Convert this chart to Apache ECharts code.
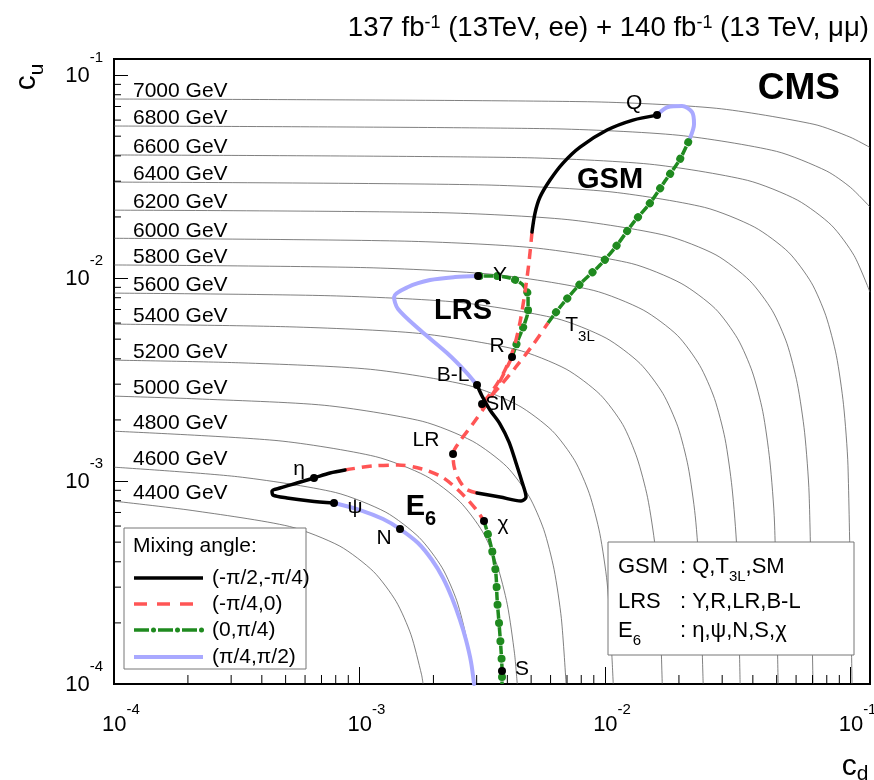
<!DOCTYPE html>
<html><head><meta charset="utf-8">
<script src="https://cdn.jsdelivr.net/npm/echarts@6/dist/echarts.min.js"></script>
<style>html,body{margin:0;padding:0;background:#fff}#c{width:874px;height:780px}</style>
</head><body><div id="c"></div>
<script>
// ---------------- DATA ----------------
const massNames = ['4400 GeV','4600 GeV','4800 GeV','5000 GeV','5200 GeV','5400 GeV','5600 GeV','5800 GeV','6000 GeV','6200 GeV','6400 GeV','6600 GeV','6800 GeV','7000 GeV'];
const c4400 = [[1e-4,7.96e-4],[2.08e-4,7.16e-4],[5.19e-4,5.97e-4],[8.31e-4,4.78e-4],[1.14e-3,3.58e-4],[1.41e-3,2.55e-4],[1.62e-3,1.75e-4],[1.79e-3,1.11e-4],[1.815e-3,1e-4]];
const c4600 = [[1e-4,1.17e-3],[3.19e-4,1.05e-3],[7.98e-4,8.78e-4],[1.28e-3,7.02e-4],[1.75e-3,5.27e-4],[2.17e-3,3.74e-4],[2.49e-3,2.57e-4],[2.74e-3,1.64e-4],[2.92e-3,1e-4]];
const c4800 = [[1e-4,1.76e-3],[4.66e-4,1.58e-3],[1.16e-3,1.32e-3],[1.86e-3,1.06e-3],[2.56e-3,7.92e-4],[3.17e-3,5.63e-4],[3.63e-3,3.87e-4],[4.0e-3,2.46e-4],[4.28e-3,1.41e-4],[4.39e-3,1e-4]];
const c5000 = [[1e-4,2.62e-3],[2.16e-4,2.54e-3],[7.22e-4,2.36e-3],[1.8e-3,1.97e-3],[2.89e-3,1.57e-3],[3.97e-3,1.18e-3],[4.91e-3,8.38e-4],[5.63e-3,5.76e-4],[6.2e-3,3.67e-4],[6.64e-3,2.1e-4],[6.94e-3,1e-4]];
const c5200 = [[1e-4,3.94e-3],[3.32e-4,3.82e-3],[1.11e-3,3.55e-3],[2.77e-3,2.96e-3],[4.43e-3,2.36e-3],[6.09e-3,1.77e-3],[7.53e-3,1.26e-3],[8.63e-3,8.67e-4],[9.52e-3,5.52e-4],[1.02e-2,3.15e-4],[1.06e-2,1.58e-4],[1.08e-2,1e-4]];
const c5400 = [[1e-4,5.93e-3],[5.2e-4,5.75e-3],[1.74e-3,5.34e-3],[4.34e-3,4.45e-3],[6.94e-3,3.56e-3],[9.54e-3,2.67e-3],[1.18e-2,1.9e-3],[1.35e-2,1.3e-3],[1.49e-2,8.3e-4],[1.6e-2,4.74e-4],[1.67e-2,2.37e-4],[1.71e-2,1e-4]];
const c5600 = [[1e-4,8.43e-3],[7.6e-4,8.18e-3],[2.54e-3,7.59e-3],[6.34e-3,6.32e-3],[1.01e-2,5.06e-3],[1.39e-2,3.79e-3],[1.72e-2,2.7e-3],[1.98e-2,1.85e-3],[2.18e-2,1.18e-3],[2.33e-2,6.74e-4],[2.43e-2,3.37e-4],[2.51e-2,1e-4]];
const c5800 = [[1e-4,1.16e-2],[1.07e-3,1.125e-2],[3.58e-3,1.04e-2],[8.95e-3,8.7e-3],[1.43e-2,6.96e-3],[1.97e-2,5.22e-3],[2.43e-2,3.71e-3],[2.79e-2,2.55e-3],[3.08e-2,1.62e-3],[3.29e-2,9.28e-4],[3.44e-2,4.64e-4],[3.55e-2,1e-4]];
const c6000 = [[1e-4,1.57e-2],[1.53e-3,1.52e-2],[5.1e-3,1.41e-2],[1.28e-2,1.18e-2],[2.04e-2,9.42e-3],[2.81e-2,7.07e-3],[3.47e-2,5.02e-3],[3.98e-2,3.45e-3],[4.39e-2,2.2e-3],[4.69e-2,1.26e-3],[4.9e-2,6.28e-4],[5.07e-2,1e-4]];
const c6200 = [[1e-4,2.16e-2],[2.12e-3,2.1e-2],[7.06e-3,1.94e-2],[1.77e-2,1.62e-2],[2.83e-2,1.3e-2],[3.88e-2,9.72e-3],[4.8e-2,6.91e-3],[5.51e-2,4.75e-3],[6.07e-2,3.02e-3],[6.5e-2,1.73e-3],[6.78e-2,8.64e-4],[7.03e-2,1e-4]];
const c6400 = [[1e-4,2.97e-2],[3.05e-3,2.88e-2],[1.02e-2,2.67e-2],[2.54e-2,2.23e-2],[4.07e-2,1.78e-2],[5.59e-2,1.34e-2],[6.92e-2,9.5e-3],[7.93e-2,6.53e-3],[8.75e-2,4.16e-3],[9.36e-2,2.38e-3],[9.76e-2,1.19e-3],[1.014e-1,1e-4]];
const c6600 = [[1e-4,4.04e-2],[4.56e-3,3.92e-2],[1.52e-2,3.64e-2],[3.8e-2,3.03e-2],[6.08e-2,2.42e-2],[8.36e-2,1.82e-2],[1.034e-1,1.29e-2],[1.2e-1,8.52e-3]];
const c6800 = [[1e-4,5.61e-2],[6.0e-3,5.44e-2],[2.0e-2,5.05e-2],[4.99e-2,4.21e-2],[7.98e-2,3.37e-2],[9.98e-2,2.8e-2],[1.2e-1,2.24e-2]];
const c7000 = [[1e-4,7.62e-2],[8.5e-3,7.39e-2],[2.84e-2,6.86e-2],[7.1e-2,5.72e-2],[9.94e-2,4.95e-2],[1.2e-1,4.4e-2]];
const contours = [c4400,c4600,c4800,c5000,c5200,c5400,c5600,c5800,c6000,c6200,c6400,c6600,c6800,c7000];

// GSM model, mixing angle segments
const gsmBlack = [[0.01629,0.0635],[0.013,0.060],[0.01019,0.05359],[0.00791,0.04418],[0.006742,0.03685],[0.00597,0.0304],[0.005435,0.02506],[0.005186,0.0209],[0.005041,0.01685]];
const gsmRed = [[0.005041,0.01685],[0.004901,0.01199],[0.00472,0.00853],[0.004506,0.00607],[0.004258,0.004572],[0.003914,0.003522],[0.003497,0.002807],[0.003155,0.002395],[0.003096,0.002289],[0.003735,0.002938],[0.004299,0.003603],[0.005041,0.004624],[0.005857,0.006]];
const gsmGreen = [[0.005857,0.006],[0.006555,0.007195],[0.00791,0.00934],[0.009541,0.01159],[0.01119,0.01454],[0.013,0.01866],[0.01525,0.02342],[0.01755,0.03005],[0.02021,0.03857],[0.02219,0.04893]];
const gsmBlue = [[0.02219,0.04893],[0.02304,0.05736],[0.02262,0.0657],[0.02059,0.07036],[0.01805,0.06957],[0.01629,0.0635]];
// LRS model
const lrsBlack = [[0.00301,0.00297],[0.003155,0.002622],[0.0034,0.002238],[0.003735,0.001909],[0.004064,0.001556],[0.00434,0.001227],[0.004591,0.0009888],[0.004767,0.0008345],[0.004548,0.000797],[0.003735,0.0008345],[0.00301,0.0008728]];
const lrsRed = [[0.00301,0.0008728],[0.002715,0.0009133],[0.002518,0.001035],[0.002426,0.001186],[0.002404,0.001358],[0.002567,0.001574],[0.002872,0.001887],[0.003275,0.002368],[0.0037,0.00304],[0.00418,0.004081]];
const lrsGreen = [[0.00418,0.004081],[0.004421,0.00495],[0.004678,0.005867],[0.004858,0.006957],[0.004858,0.008154],[0.004591,0.00934],[0.004102,0.01],[0.003564,0.01023],[0.003039,0.01023]];
const lrsBlue = [[0.003039,0.01023],[0.002449,0.01011],[0.001937,0.009775],[0.001576,0.00903],[0.001382,0.008063],[0.001435,0.007036],[0.001764,0.005543],[0.002272,0.004271],[0.002715,0.003443],[0.00301,0.00297]];
// E6 model
const e6Black = [[0.0007873,0.000779],[0.0006287,0.000797],[0.0005066,0.000825],[0.0004443,0.000853],[0.0004401,0.0008927],[0.0004745,0.0009236],[0.0005563,0.0009775],[0.0006526,0.001035],[0.0007583,0.001095],[0.0008728,0.001133]];
const e6Red = [[0.0008728,0.001133],[0.001124,0.001186],[0.001435,0.001199],[0.001797,0.001146],[0.002168,0.001046],[0.002472,0.0009236],[0.002767,0.0008063],[0.003039,0.0007036],[0.003214,0.0006353]];
const e6Green = [[0.003214,0.0006353],[0.003368,0.0005237],[0.003497,0.000432],[0.003597,0.0003442],[0.003632,0.0002652],[0.0037,0.0001997],[0.00377,0.000147],[0.003805,0.0001159],[0.003805,0.0001]];
const e6Blue = [[0.002927,0.0001],[0.002846,0.0001283],[0.002715,0.0001647],[0.002567,0.0002066],[0.002381,0.0002652],[0.002188,0.0003328],[0.001974,0.0004081],[0.001731,0.000495],[0.001462,0.00058],[0.001247,0.0006498],[0.001005,0.0007195],[0.0007873,0.000779]];

// named benchmark points
const pointNames = ['Q','Y','R','B-L','SM','LR','η','ψ','N','χ','S','T3L'];
const pointCd = [0.01629,0.003039,0.00418,0.00301,0.003155,0.002404,0.0006526,0.0007873,0.001462,0.003214,0.003805,0.005857];
const pointCu = [0.0635,0.01023,0.004081,0.00297,0.002395,0.001358,0.001035,0.000779,0.00058,0.0006353,0.0001159,0.006];
const pointHasDot = [true,true,true,true,true,true,true,true,true,true,true,false];

// model family labels
const familyNames = ['GSM','LRS','E6'];
const familyCd = [0.01048,0.00264,0.00178];
const familyCu = [0.0304,0.006878,0.0007445];

// axis
const axisMin = 1e-4, axisMax = 0.12;
const minorMultipliers = [2,3,4,5,6,7,8,9];
const minorDecades = [1e-4,1e-3,1e-2];

// legend text
const legendTitle = 'Mixing angle:';
const legendLabels = ['(-π/2,-π/4)','(-π/4,0)','(0,π/4)','(π/4,π/2)'];

// ---------------- STYLE ----------------
const FONT = '"Liberation Sans", Arial, Helvetica, sans-serif';
const BLACK = '#000000', RED = '#ff5555', GREEN = '#1f8a1f', BLUE = '#a9a9ff';
const labelOffsets = {'Q':[-23,-11],'Y':[22,0],'R':[-15,-10],'B-L':[-24,-9],'SM':[19,1],'LR':[-27,-13],'η':[-15,-8],'ψ':[21,5],'N':[-16,10],'χ':[19,4],'S':[20,-1],'T3L':[32,3]};
const NOBORDER = {textBorderWidth: 0, textBorderColor: 'transparent', textShadowBlur: 0};

const styles = {
  black: {color: BLACK, width: 3.5, type: 'solid', cap: 'round', join: 'round'},
  red: {color: RED, width: 3.5, type: [10, 7]},
  greenDash: {color: GREEN, width: 3.5, type: [9, 9]},
  greenDot: {color: GREEN, width: 8, type: [0.01, 17.99], cap: 'round', dashOffset: 4.5},
  blue: {color: BLUE, width: 4, type: 'solid', cap: 'round'}
};

function lineSeries(data, style, z) {
  return {type: 'line', data: data, showSymbol: false, symbol: 'none', smooth: 0.3,
    lineStyle: style, z: z, silent: true, animation: false, xAxisIndex: 0, yAxisIndex: 0};
}

const series = [];
// contours
contours.forEach(c => series.push({type: 'line', data: c, showSymbol: false, symbol: 'none', smooth: 0.25,
  lineStyle: {color: '#555555', width: 0.75}, z: 1, silent: true, animation: false}));
// mass labels
series.push({type: 'scatter', symbolSize: 0, itemStyle: {color: 'transparent', opacity: 1}, z: 2, silent: true,
  data: contours.map(c => c[0]),
  label: Object.assign({show: true, formatter: p => massNames[p.dataIndex], position: [19, 3], align: 'left', verticalAlign: 'bottom',
    fontFamily: FONT, fontSize: 21, color: '#000', opacity: 1}, NOBORDER)});
// models
const models = [
  [gsmBlack, gsmRed, gsmGreen, gsmBlue],
  [lrsBlack, lrsRed, lrsGreen, lrsBlue],
  [e6Black, e6Red, e6Green, e6Blue]
];
models.forEach(m => {
  series.push(lineSeries(m[3], styles.blue, 3));
  series.push(lineSeries(m[2], styles.greenDash, 4));
  series.push(lineSeries(m[2], styles.greenDot, 4));
  series.push(lineSeries(m[1], styles.red, 5));
  series.push(lineSeries(m[0], styles.black, 6));
});
// benchmark points
series.push({type: 'scatter', z: 10, silent: true, animation: false,
  data: pointNames.map((n, i) => {
    const size = pointHasDot[i] ? 8 : 0;
    const off = labelOffsets[n];
    return {value: [pointCd[i], pointCu[i]], symbolSize: size,
      label: {position: [size / 2 + off[0], size / 2 + off[1]]}};
  }),
  itemStyle: {color: '#000', opacity: 1},
  label: Object.assign({show: true, align: 'center', verticalAlign: 'middle', color: '#000', opacity: 1,
    formatter: p => pointNames[p.dataIndex] === 'T3L' ? '{m|T}{sub|3L}' : '{m|' + pointNames[p.dataIndex] + '}',
    rich: {m: Object.assign({fontFamily: FONT, fontSize: 21, color: '#000', lineHeight: 22, verticalAlign: 'top'}, NOBORDER),
           sub: Object.assign({fontFamily: FONT, fontSize: 15, color: '#000', lineHeight: 15, padding: [14, 0, 0, 0], verticalAlign: 'top'}, NOBORDER)}}, NOBORDER)});
// family labels
series.push({type: 'scatter', z: 10, silent: true, symbolSize: 0, itemStyle: {color: 'transparent', opacity: 1},
  data: familyNames.map((n, i) => [familyCd[i], familyCu[i]]),
  label: Object.assign({show: true, position: [0, 0], align: 'center', verticalAlign: 'middle', color: '#000', opacity: 1,
    formatter: p => familyNames[p.dataIndex] === 'E6' ? '{b|E}{bs|6}' : '{b|' + familyNames[p.dataIndex] + '}',
    rich: {b: Object.assign({fontFamily: FONT, fontSize: 29, fontWeight: 'bold', color: '#000', lineHeight: 30, verticalAlign: 'top'}, NOBORDER),
           bs: Object.assign({fontFamily: FONT, fontSize: 20, fontWeight: 'bold', color: '#000', lineHeight: 20, padding: [17, 0, 0, 0], verticalAlign: 'top'}, NOBORDER)}}, NOBORDER)});
// minor ticks
const minorVals = [];
minorDecades.forEach(d => minorMultipliers.forEach(m => minorVals.push(d * m)));
series.push({type: 'custom', z: 8, silent: true, animation: false, clip: false,
  data: minorVals.map(v => [v, axisMin]),
  renderItem: (params, api) => {
    const p = api.coord([api.value(0), api.value(1)]);
    return {type: 'line', shape: {x1: p[0], y1: p[1], x2: p[0], y2: p[1] - 9}, style: {stroke: '#000', lineWidth: 1}};
  }});
series.push({type: 'custom', z: 8, silent: true, animation: false, clip: false,
  data: minorVals.map(v => [axisMin, v]),
  renderItem: (params, api) => {
    const p = api.coord([api.value(0), api.value(1)]);
    return {type: 'line', shape: {x1: p[0], y1: p[1], x2: p[0] + 7, y2: p[1]}, style: {stroke: '#000', lineWidth: 1}};
  }});

function powLabel(v) {
  const e = Math.log10(v);
  const r = Math.round(e);
  if (Math.abs(e - r) > 1e-6) return '';
  return '{b|10}{s|' + r + '}';
}

// legend graphics
const LX = 124, LY = 528, LW = 182, LH = 141;
const legendRows = [578, 604, 630, 657];
const legendGraphics = [
  {type: 'rect', shape: {x: LX, y: LY, width: LW, height: LH}, style: {fill: '#fff', stroke: '#777', lineWidth: 1}, z: 50},
  {type: 'text', x: 133, y: 546, style: {text: legendTitle, fontFamily: FONT, fontSize: 21, fill: '#000', verticalAlign: 'middle'}, z: 51},
  {type: 'line', shape: {x1: 134, y1: legendRows[0], x2: 203, y2: legendRows[0]}, style: {stroke: BLACK, lineWidth: 3.5}, z: 51},
  {type: 'line', shape: {x1: 134, y1: legendRows[1], x2: 203, y2: legendRows[1]}, style: {stroke: RED, lineWidth: 3.5, lineDash: [13, 10]}, z: 51},
  {type: 'line', shape: {x1: 134, y1: legendRows[2], x2: 203, y2: legendRows[2]}, style: {stroke: GREEN, lineWidth: 3.5, lineDash: [15, 9]}, z: 51},
  {type: 'line', shape: {x1: 134, y1: legendRows[2], x2: 203, y2: legendRows[2]}, style: {stroke: GREEN, lineWidth: 5, lineDash: [0.01, 23.99], lineCap: 'round', lineDashOffset: -19.5}, z: 52},
  {type: 'line', shape: {x1: 134, y1: legendRows[3], x2: 203, y2: legendRows[3]}, style: {stroke: BLUE, lineWidth: 4}, z: 51}
];
legendLabels.forEach((t, i) => legendGraphics.push({type: 'text', x: 212, y: legendRows[i], z: 51,
  style: {text: t, fontFamily: FONT, fontSize: 21, fill: '#000', verticalAlign: 'middle'}}));

// model description box
const infoRows = [567, 602, 631];
const infoRich = {n: {fontFamily: FONT, fontSize: 22, fill: '#000', lineHeight: 23, verticalAlign: 'top'},
                  sub: {fontFamily: FONT, fontSize: 15, fill: '#000', lineHeight: 15, padding: [14, 0, 0, 0], verticalAlign: 'top'}};
const infoLeft = ['{n|GSM}', '{n|LRS}', '{n|E}{sub|6}'];
const infoRight = ['{n|: Q,T}{sub|3L}{n|,SM}', '{n|: Y,R,LR,B-L}', '{n|: η,ψ,N,S,χ}'];
const infoGraphics = [
  {type: 'rect', shape: {x: 608, y: 542, width: 246, height: 113}, style: {fill: '#fff', stroke: '#777', lineWidth: 1}, z: 50}
];
infoRows.forEach((y, i) => {
  infoGraphics.push({type: 'text', x: 618, y: y, z: 51, style: {text: infoLeft[i], rich: infoRich, verticalAlign: 'middle'}});
  infoGraphics.push({type: 'text', x: 680, y: y, z: 51, style: {text: infoRight[i], rich: infoRich, verticalAlign: 'middle'}});
});

const otherGraphics = [
  {type: 'text', x: 869, y: 28, z: 60, style: {
    text: '{t|137 fb}{s|-1}{t| (13TeV, ee) + 140 fb}{s|-1}{t| (13 TeV, μμ)}', align: 'right', verticalAlign: 'middle',
    rich: {t: {fontFamily: FONT, fontSize: 27.6, fill: '#000', verticalAlign: 'bottom'},
           s: {fontFamily: FONT, fontSize: 18, fill: '#000', padding: [0, 0, 10, 0], verticalAlign: 'top'}}}},
  {type: 'text', x: 840, y: 89, z: 60, style: {text: 'CMS', fontFamily: FONT, fontSize: 37, fontWeight: 'bold', fill: '#000', align: 'right', verticalAlign: 'middle'}},
  {type: 'text', x: 27, y: 77, rotation: Math.PI / 2, z: 60, style: {
    text: '{c|c}{u|u}', align: 'center', verticalAlign: 'middle',
    rich: {c: {fontFamily: FONT, fontSize: 30, fill: '#000', lineHeight: 30, verticalAlign: 'top'},
           u: {fontFamily: FONT, fontSize: 21, fill: '#000', lineHeight: 21, padding: [15, 0, 0, 0], verticalAlign: 'top'}}}},
  {type: 'text', x: 855, y: 767, z: 60, style: {
    text: '{c|c}{d|d}', align: 'center', verticalAlign: 'middle',
    rich: {c: {fontFamily: FONT, fontSize: 30, fill: '#000', lineHeight: 30, verticalAlign: 'top'},
           d: {fontFamily: FONT, fontSize: 21, fill: '#000', lineHeight: 21, padding: [12, 0, 0, 0], verticalAlign: 'top'}}}}
];

const chart = echarts.init(document.getElementById('c'), null, {renderer: 'canvas'});
chart.setOption({
  animation: false,
  backgroundColor: '#fff',
  grid: {left: 114, right: 4, top: 59, bottom: 96, show: true, borderColor: '#000', borderWidth: 2, backgroundColor: 'transparent', containLabel: false, outerBoundsMode: 'none'},
  xAxis: {type: 'log', logBase: 10, min: axisMin, max: axisMax, position: 'bottom',
    axisLine: {show: true, onZero: false, lineStyle: {color: '#000', width: 2}},
    axisTick: {show: true, inside: true, length: 17, lineStyle: {color: '#000', width: 1}},
    splitLine: {show: false}, minorTick: {show: false},
    axisLabel: {show: true, margin: 18, padding: [0, 0, 0, 14], formatter: powLabel, showMaxLabel: true,
      rich: {b: {fontFamily: FONT, fontSize: 22, color: '#000', verticalAlign: 'bottom'},
             s: {fontFamily: FONT, fontSize: 15, color: '#000', padding: [0, 0, 19, 0], verticalAlign: 'top'}}}},
  yAxis: {type: 'log', logBase: 10, min: axisMin, max: axisMax, position: 'left',
    axisLine: {show: true, onZero: false, lineStyle: {color: '#000', width: 2}},
    axisTick: {show: true, inside: true, length: 14, lineStyle: {color: '#000', width: 1}},
    splitLine: {show: false}, minorTick: {show: false},
    axisLabel: {show: true, margin: 11, padding: [0, 0, 13, 0], formatter: powLabel, showMaxLabel: true,
      rich: {b: {fontFamily: FONT, fontSize: 22, color: '#000', verticalAlign: 'bottom'},
             s: {fontFamily: FONT, fontSize: 15, color: '#000', padding: [0, 0, 22, 0], verticalAlign: 'top'}}}},
  series: series,
  graphic: {elements: legendGraphics.concat(infoGraphics, otherGraphics)}
});
</script></body></html>
